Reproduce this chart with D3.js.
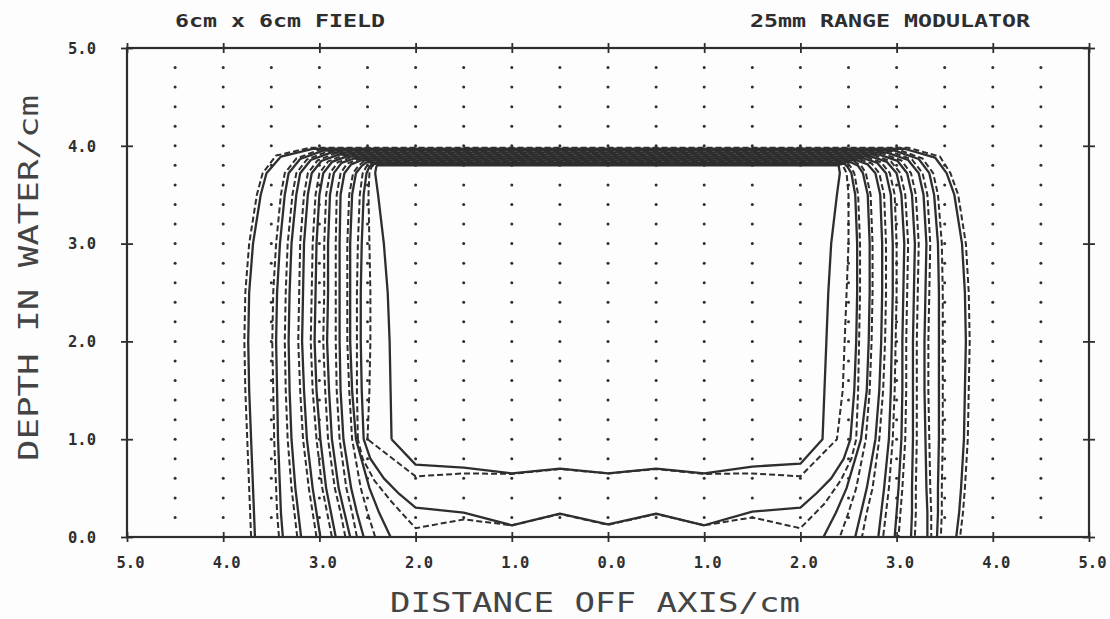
<!DOCTYPE html>
<html>
<head>
<meta charset="utf-8">
<script src="https://cdn.jsdelivr.net/npm/d3@7"></script>
<style>
  html, body { margin: 0; padding: 0; background: #fdfdfd; }
  svg { display: block; }
</style>
</head>
<body>
<svg id="chart" width="1110" height="619"></svg>
<script>
// ---- isodose data (cm) ----
// depths at which each side profile is sampled
const depths = [0, 0.25, 0.5, 1.0, 1.5, 2.0, 2.5, 3.0, 3.5, 3.72];

// isodose lines from the outermost (lowest level) to the innermost
const lineNames = ["D1","S1","D2","S2","D3","S3","D4","S4","D5","S5",
                   "D6","S6","D7","S7","D8","S8","D9","S9","D10","S10"];
const lineDashed = [true,false,true,false,true,false,true,false,true,false,
                    true,false,true,false,true,false,true,false,true,false];

// lateral position on the left side at each depth (null: line closes across the floor)
const leftX = [
  [-3.71,-3.72,-3.73,-3.75,-3.77,-3.78,-3.77,-3.73,-3.65,-3.59],
  [-3.67,-3.68,-3.69,-3.71,-3.73,-3.74,-3.73,-3.69,-3.61,-3.55],
  [-3.42,-3.44,-3.45,-3.47,-3.48,-3.49,-3.48,-3.45,-3.40,-3.36],
  [-3.38,-3.40,-3.41,-3.43,-3.44,-3.45,-3.44,-3.41,-3.36,-3.32],
  [-3.23,-3.26,-3.29,-3.33,-3.35,-3.36,-3.35,-3.33,-3.28,-3.24],
  [-3.19,-3.22,-3.25,-3.29,-3.31,-3.32,-3.31,-3.29,-3.24,-3.20],
  [-3.03,-3.07,-3.11,-3.17,-3.20,-3.22,-3.21,-3.20,-3.16,-3.12],
  [-2.99,-3.03,-3.07,-3.13,-3.16,-3.18,-3.17,-3.16,-3.12,-3.08],
  [-2.87,-2.92,-2.97,-3.03,-3.07,-3.09,-3.08,-3.07,-3.04,-3.00],
  [-2.83,-2.88,-2.93,-2.99,-3.03,-3.05,-3.04,-3.03,-3.00,-2.96],
  [-2.73,-2.78,-2.84,-2.91,-2.94,-2.96,-2.95,-2.95,-2.93,-2.89],
  [-2.68,-2.74,-2.80,-2.87,-2.90,-2.92,-2.91,-2.91,-2.89,-2.85],
  [-2.61,-2.66,-2.72,-2.79,-2.82,-2.83,-2.83,-2.83,-2.82,-2.78],
  [-2.54,-2.61,-2.67,-2.75,-2.78,-2.79,-2.79,-2.79,-2.78,-2.74],
  [-2.42,-2.50,-2.57,-2.66,-2.69,-2.71,-2.71,-2.71,-2.69,-2.65],
  [-2.26,-2.38,-2.48,-2.62,-2.66,-2.68,-2.68,-2.68,-2.66,-2.62],
  [null,null,null,-2.60,-2.61,-2.61,-2.61,-2.60,-2.58,-2.55],
  [null,null,null,-2.54,-2.56,-2.57,-2.57,-2.56,-2.54,-2.51],
  [null,null,null,-2.50,-2.48,-2.47,-2.47,-2.48,-2.49,-2.48],
  [null,null,null,-2.25,-2.26,-2.27,-2.29,-2.33,-2.39,-2.42]
];

// lateral position on the right side at each depth
const rightX = [
  [3.66,3.69,3.71,3.74,3.75,3.76,3.75,3.72,3.64,3.56],
  [3.62,3.65,3.67,3.70,3.71,3.72,3.71,3.68,3.60,3.52],
  [3.46,3.47,3.47,3.48,3.48,3.48,3.48,3.47,3.43,3.38],
  [3.42,3.43,3.43,3.44,3.44,3.44,3.44,3.43,3.39,3.34],
  [3.36,3.36,3.35,3.34,3.33,3.33,3.34,3.35,3.32,3.27],
  [3.32,3.32,3.31,3.30,3.29,3.29,3.30,3.31,3.28,3.23],
  [3.19,3.20,3.20,3.21,3.21,3.21,3.22,3.23,3.20,3.15],
  [3.15,3.16,3.16,3.17,3.17,3.17,3.18,3.19,3.16,3.11],
  [3.02,3.04,3.06,3.09,3.10,3.10,3.11,3.12,3.09,3.04],
  [2.98,3.00,3.02,3.05,3.06,3.06,3.07,3.08,3.05,3.00],
  [2.86,2.89,2.92,2.96,2.98,2.99,3.00,3.00,2.98,2.93],
  [2.81,2.84,2.87,2.92,2.94,2.95,2.96,2.96,2.94,2.89],
  [2.64,2.69,2.75,2.82,2.86,2.88,2.89,2.89,2.87,2.82],
  [2.57,2.63,2.69,2.78,2.82,2.84,2.85,2.85,2.83,2.78],
  [2.41,2.50,2.58,2.68,2.72,2.74,2.75,2.75,2.73,2.68],
  [2.24,2.37,2.48,2.63,2.69,2.71,2.72,2.72,2.70,2.65],
  [null,null,null,2.58,2.60,2.61,2.62,2.62,2.60,2.56],
  [null,null,null,2.52,2.56,2.58,2.59,2.59,2.57,2.53],
  [null,null,null,2.38,2.44,2.46,2.48,2.50,2.50,2.48],
  [null,null,null,2.23,2.25,2.27,2.29,2.32,2.38,2.41]
];

// shoulder where each line turns into the distal fall-off
const leftCorner = [
  [-3.45,3.90],[-3.40,3.89],[-3.24,3.87],[-3.20,3.865],[-3.13,3.86],[-3.09,3.855],
  [-3.02,3.85],[-2.98,3.845],[-2.91,3.84],[-2.87,3.835],[-2.81,3.83],[-2.77,3.825],
  [-2.71,3.82],[-2.67,3.81],[-2.59,3.80],[-2.56,3.795],[-2.51,3.79],[-2.48,3.785],
  [-2.46,3.78],[-2.41,3.78]
];
const rightCorner = [
  [3.45,3.89],[3.40,3.88],[3.27,3.87],[3.23,3.865],[3.16,3.86],[3.12,3.855],
  [3.05,3.85],[3.01,3.845],[2.94,3.84],[2.90,3.835],[2.84,3.83],[2.80,3.825],
  [2.74,3.82],[2.70,3.81],[2.63,3.80],[2.60,3.795],[2.52,3.79],[2.49,3.785],
  [2.45,3.78],[2.40,3.78]
];
const leftJoin  = [-3.10,-3.06,-3.00,-2.96,-2.92,-2.88,-2.84,-2.80,-2.76,-2.72,
                   -2.68,-2.64,-2.60,-2.57,-2.54,-2.51,-2.48,-2.45,-2.43,-2.40];
const rightJoin = [3.12,3.08,3.02,2.98,2.94,2.90,2.86,2.82,2.78,2.74,
                   2.70,2.66,2.62,2.59,2.56,2.53,2.49,2.46,2.43,2.40];
// depth of each line across the distal edge
const bandDepth = [3.98,3.97,3.96,3.95,3.94,3.93,3.92,3.91,3.90,3.89,
                   3.88,3.87,3.86,3.85,3.84,3.83,3.82,3.815,3.81,3.80];

// floor of the closed high-dose lines
const floorX   = [-2.0,-1.5,-1.0,-0.5,0.0,0.5,1.0,1.5,2.0];
const floorD9  = [0.09,0.18,0.12,0.235,0.125,0.235,0.12,0.20,0.09];
const floorS9  = [0.30,0.25,0.12,0.24,0.13,0.24,0.12,0.26,0.30];
const floorD10 = [0.62,0.65,0.645,0.695,0.65,0.695,0.645,0.65,0.62];
const floorS10 = [0.74,0.71,0.65,0.70,0.65,0.70,0.65,0.72,0.75];
// bends between the side walls and the floor
const bendD9Right = [[2.53,0.80],[2.42,0.58],[2.25,0.34]];
const bendD9Left  = [[-2.25,0.36],[-2.43,0.58],[-2.55,0.80]];
const bendS9Right = [[2.45,0.80],[2.32,0.60],[2.17,0.45]];
const bendS9Left  = [[-2.17,0.44],[-2.33,0.60],[-2.47,0.80]];

// axis ticks
const xTicks = [-5,-4,-3,-2,-1,0,1,2,3,4,5];
const yTicks = [0,1,2,3,4,5];
// sampling grid
const gridX = [-4.5,-4,-3.5,-3,-2.5,-2,-1.5,-1,-0.5,0,0.5,1,1.5,2,2.5,3,3.5,4,4.5];
const gridY = [0.2,0.4,0.6,0.8,1.0,1.2,1.4,1.6,1.8,2.0,2.2,2.4,2.6,2.8,3.0,3.2,3.4,3.6,3.8,4.0,4.2,4.4,4.6,4.8];

const floors = {
  16: { floor: floorD9,  right: bendD9Right, left: bendD9Left },
  17: { floor: floorS9,  right: bendS9Right, left: bendS9Left },
  18: { floor: floorD10, right: [], left: [] },
  19: { floor: floorS10, right: [], left: [] }
};

// ---- drawing ----
const ink = "#2e2e2e";
const svg = d3.select("#chart");
const x = d3.scaleLinear().domain([-5, 5]).range([127, 1089]);
const y = d3.scaleLinear().domain([0, 5]).range([537, 48]);

// dot grid
const dots = svg.append("g");
gridX.forEach(gx => gridY.forEach(gy => {
  dots.append("circle").attr("cx", x(gx)).attr("cy", y(gy)).attr("r", 1.5).attr("fill", ink);
}));

function linePoints(i) {
  const pts = [];
  depths.forEach((d, j) => { if (leftX[i][j] !== null) pts.push([leftX[i][j], d]); });
  pts.push(leftCorner[i]);
  pts.push([leftJoin[i], bandDepth[i]]);
  pts.push([rightJoin[i], bandDepth[i]]);
  pts.push(rightCorner[i]);
  for (let j = depths.length - 1; j >= 0; j--) {
    if (rightX[i][j] !== null) pts.push([rightX[i][j], depths[j]]);
  }
  const f = floors[i];
  if (f) {
    f.right.forEach(p => pts.push(p));
    for (let k = floorX.length - 1; k >= 0; k--) pts.push([floorX[k], f.floor[k]]);
    f.left.forEach(p => pts.push(p));
    pts.push(pts[0]);
  }
  return pts;
}

const path = d3.line().x(p => x(p[0])).y(p => y(p[1])).curve(d3.curveLinear);
const iso = svg.append("g").attr("fill", "none").attr("stroke", ink).attr("stroke-linejoin", "round");
lineNames.forEach((name, i) => {
  iso.append("path")
    .attr("class", "iso " + name)
    .attr("d", path(linePoints(i)))
    .attr("stroke-width", lineDashed[i] ? 2.0 : 2.3)
    .attr("stroke-dasharray", lineDashed[i] ? "6,3" : null);
});

// frame and ticks
const fmt = d => Math.abs(d).toFixed(1);
const frame = svg.append("g").attr("stroke", ink).attr("stroke-width", 2.2).attr("fill", "none");
frame.append("rect").attr("x", x(-5)).attr("y", y(5)).attr("width", x(5) - x(-5)).attr("height", y(0) - y(5));

function styleAxis(g, horizontal) {
  g.select(".domain").remove();
  g.selectAll(".tick line").attr("stroke", ink).attr("stroke-width", 1.8);
  if (horizontal) g.selectAll(".tick line").attr("y1", -5).attr("y2", 5);
  else g.selectAll(".tick line").attr("x1", -6).attr("x2", 6);
}

const gx = svg.append("g").attr("transform", `translate(0,${y(0)})`)
  .call(d3.axisBottom(x).tickValues(xTicks).tickFormat(fmt).tickSize(5));
styleAxis(gx, true);
gx.selectAll(".tick text")
  .attr("y", 31).attr("dy", 0).attr("dx", 3)
  .attr("font-family", "DejaVu Sans Mono").attr("font-weight", "bold").attr("font-size", 15)
  .attr("fill", ink).attr("textLength", 28).attr("lengthAdjust", "spacingAndGlyphs");

const gt = svg.append("g").attr("transform", `translate(0,${y(5)})`)
  .call(d3.axisTop(x).tickValues(xTicks).tickFormat("").tickSize(5));
styleAxis(gt, true);

const gy = svg.append("g").attr("transform", `translate(${x(-5)},0)`)
  .call(d3.axisLeft(y).tickValues(yTicks).tickFormat(fmt).tickSize(5));
styleAxis(gy, false);
gy.selectAll(".tick text")
  .attr("x", -31).attr("dy", "0.35em")
  .attr("font-family", "DejaVu Sans Mono").attr("font-weight", "bold").attr("font-size", 15)
  .attr("fill", ink).attr("textLength", 28).attr("lengthAdjust", "spacingAndGlyphs");

const gr = svg.append("g").attr("transform", `translate(${x(5)},0)`)
  .call(d3.axisRight(y).tickValues(yTicks).tickFormat("").tickSize(5));
styleAxis(gr, false);

// headings
const heading = (txt, x0, len) => svg.append("text")
  .attr("x", x0).attr("y", 27).text(txt)
  .attr("font-family", "DejaVu Sans Mono").attr("font-weight", "bold").attr("font-size", 17)
  .attr("fill", ink).attr("textLength", len).attr("lengthAdjust", "spacingAndGlyphs");
heading("6cm x 6cm FIELD", 175, 210);
heading("25mm RANGE MODULATOR", 750, 280);

// axis titles
svg.append("text").attr("x", 390).attr("y", 612).text("DISTANCE OFF AXIS/cm")
  .attr("font-family", "DejaVu Sans Mono").attr("font-size", 27).attr("fill", "#444")
  .attr("textLength", 410).attr("lengthAdjust", "spacingAndGlyphs");
svg.append("text").attr("transform", "translate(38,461) rotate(-90)").text("DEPTH IN WATER/cm")
  .attr("font-family", "DejaVu Sans Mono").attr("font-size", 27).attr("fill", "#444")
  .attr("textLength", 366).attr("lengthAdjust", "spacingAndGlyphs");
</script>
</body>
</html>
